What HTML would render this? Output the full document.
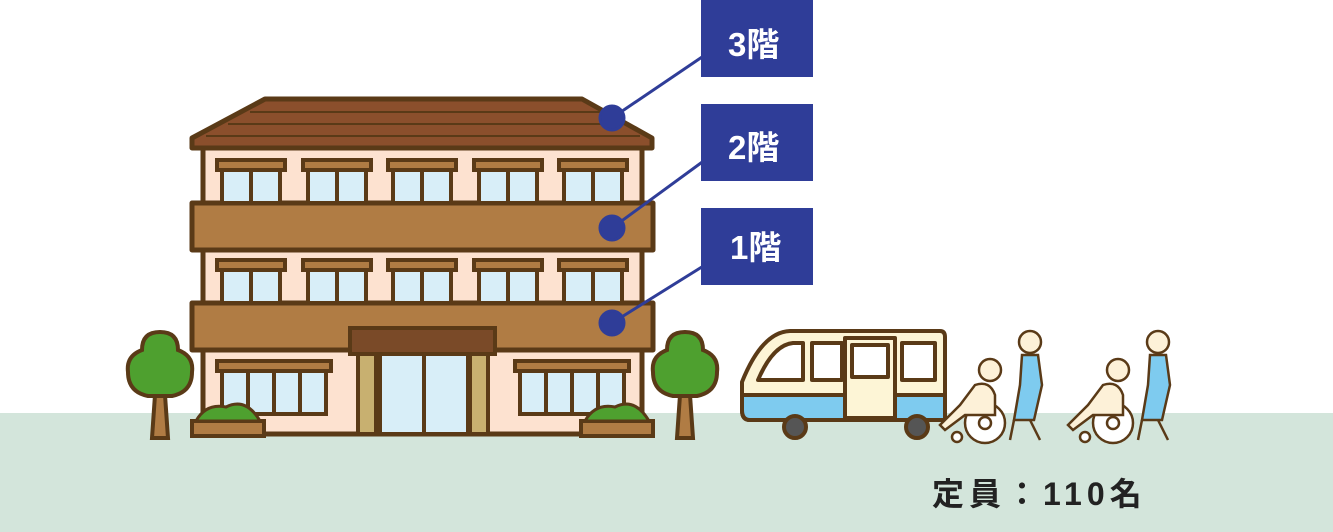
<!DOCTYPE html>
<html><head><meta charset="utf-8"><style>
html,body{margin:0;padding:0;background:#fff}
svg{display:block}
text{font-family:"Liberation Sans","Noto Sans CJK JP",sans-serif;font-weight:bold}
</style></head><body>
<svg width="1333" height="532" viewBox="0 0 1333 532" xmlns="http://www.w3.org/2000/svg">
<rect x="0" y="413" width="1333" height="119" fill="#d3e5db"/>
<g stroke="#5a3a17" stroke-width="5" stroke-linejoin="round">
<rect x="203" y="146" width="439" height="288" fill="#fde2d0"/>
<polygon points="265,99 582,99 652,138 652,148 192,148 192,138" fill="#8b4f2c"/>
<rect x="192" y="203" width="461" height="47" fill="#b07c44"/>
<rect x="192" y="303" width="461" height="47" fill="#b07c44"/>
</g>
<g stroke="#5a3a17" stroke-width="2" fill="none"><line x1="250" y1="112" x2="605" y2="112"/><line x1="228" y1="124" x2="625" y2="124"/><line x1="206" y1="136" x2="640" y2="136"/></g>
<g id="w" stroke="#5a3a17" stroke-width="4">
<rect x="222" y="168" width="58" height="35" fill="#d8eef8"/>
<rect x="217" y="160" width="68" height="10" fill="#b07c44"/>
<line x1="251" y1="170" x2="251" y2="203"/>
</g>
<use href="#w" x="86"/><use href="#w" x="171"/><use href="#w" x="257"/><use href="#w" x="342"/>
<use href="#w" y="100"/><use href="#w" x="86" y="100"/><use href="#w" x="171" y="100"/><use href="#w" x="257" y="100"/><use href="#w" x="342" y="100"/>
<g stroke="#5a3a17" stroke-width="4">
<rect x="222" y="370" width="104" height="44" fill="#d8eef8"/>
<rect x="217" y="361" width="114" height="10" fill="#b07c44"/>
<line x1="248" y1="371" x2="248" y2="414"/><line x1="274" y1="371" x2="274" y2="414"/><line x1="300" y1="371" x2="300" y2="414"/>
<rect x="520" y="370" width="104" height="44" fill="#d8eef8"/>
<rect x="515" y="361" width="114" height="10" fill="#b07c44"/>
<line x1="546" y1="371" x2="546" y2="414"/><line x1="572" y1="371" x2="572" y2="414"/><line x1="598" y1="371" x2="598" y2="414"/>
<rect x="380" y="352" width="88" height="82" fill="#d8eef8"/>
<line x1="424" y1="352" x2="424" y2="434"/>
<rect x="358" y="352" width="18" height="82" fill="#c8b070"/>
<rect x="470" y="352" width="18" height="82" fill="#c8b070"/>
<rect x="350" y="328" width="145" height="26" fill="#7a4a28"/>
<rect x="192" y="421" width="72" height="15" fill="#b07c44"/>
<rect x="581" y="421" width="72" height="15" fill="#b07c44"/>
</g>
<path d="M196,421 q10,-18 30,-14 q20,-10 34,14z" fill="#4ea02f" stroke="#5a3a17" stroke-width="3"/>
<path d="M585,421 q10,-18 30,-14 q20,-10 34,14z" fill="#4ea02f" stroke="#5a3a17" stroke-width="3"/>
<g stroke="#5a3a17" stroke-width="4">
<polygon points="155,395 165,395 168,438 152,438" fill="#b07c44"/>
<path d="M160,332 q18,0 18,18 q16,6 14,22 q0,20 -20,24 l-24,0 q-20,-4 -20,-24 q-2,-16 14,-22 q0,-18 18,-18z" fill="#4ea02f"/>
<polygon points="680,395 690,395 693,438 677,438" fill="#b07c44"/>
<path d="M685,332 q18,0 18,18 q16,6 14,22 q0,20 -20,24 l-24,0 q-20,-4 -20,-24 q-2,-16 14,-22 q0,-18 18,-18z" fill="#4ea02f"/>
</g>
<g fill="#2f3d98" stroke="#2f3d98" stroke-width="3">
<line x1="612" y1="118" x2="705" y2="55"/><line x1="612" y1="228" x2="705" y2="160"/><line x1="612" y1="323" x2="705" y2="265"/>
<circle cx="612" cy="118" r="12"/><circle cx="612" cy="228" r="12"/><circle cx="612" cy="323" r="12"/>
<rect x="701" y="0" width="112" height="77" stroke="none"/>
<rect x="701" y="104" width="112" height="77" stroke="none"/>
<rect x="701" y="208" width="112" height="77" stroke="none"/>
</g>
<g fill="#fff" font-size="33"><text x="728" y="56">3階</text><text x="728" y="159">2階</text><text x="730" y="259">1階</text></g>
<g stroke="#5a3a17" stroke-width="4" stroke-linejoin="round">
<path d="M790,331 L940,331 q5,0 5,6 L945,420 L750,420 q-8,0 -8,-10 L742,382 q20,-50 48,-51z" fill="#fdf5d6"/>
<path d="M742,395 L945,395 L945,420 L750,420 q-8,0 -8,-10z" fill="#7ecbef"/>
<path d="M758,380 q15,-35 35,-37 l10,0 l0,37z" fill="#fff"/>
<rect x="812" y="343" width="30" height="37" fill="#fff"/>
<rect x="845" y="338" width="50" height="80" fill="#fdf5d6"/>
<rect x="852" y="345" width="36" height="32" fill="#fff"/>
<rect x="902" y="343" width="33" height="37" fill="#fff"/>
<circle cx="795" cy="427" r="11" fill="#555"/><circle cx="917" cy="427" r="11" fill="#555"/>
</g>
<g id="p" stroke="#5a3a17" stroke-width="2.5">
<circle cx="985" cy="423" r="20" fill="#fff"/><circle cx="985" cy="423" r="6" fill="#fff"/>
<circle cx="957" cy="437" r="5" fill="#fff"/>
<circle cx="990" cy="370" r="11" fill="#fdf1d8"/>
<path d="M975,385 q15,-5 20,10 l0,20 l-30,0 l-20,15 l-5,-5 l20,-20z" fill="#fdf1d8"/>
<circle cx="1030" cy="342" r="11" fill="#fdf1d8"/>
<path d="M1022,355 l16,0 l4,30 l-8,35 l-20,0 l6,-35z" fill="#7ecbef"/>
<line x1="1014" y1="420" x2="1010" y2="440"/><line x1="1030" y1="420" x2="1040" y2="440"/>
</g>
<use href="#p" x="128"/>
<text x="932" y="505" font-size="32" fill="#222" letter-spacing="5">定員：110名</text>
</svg>
</body></html>
